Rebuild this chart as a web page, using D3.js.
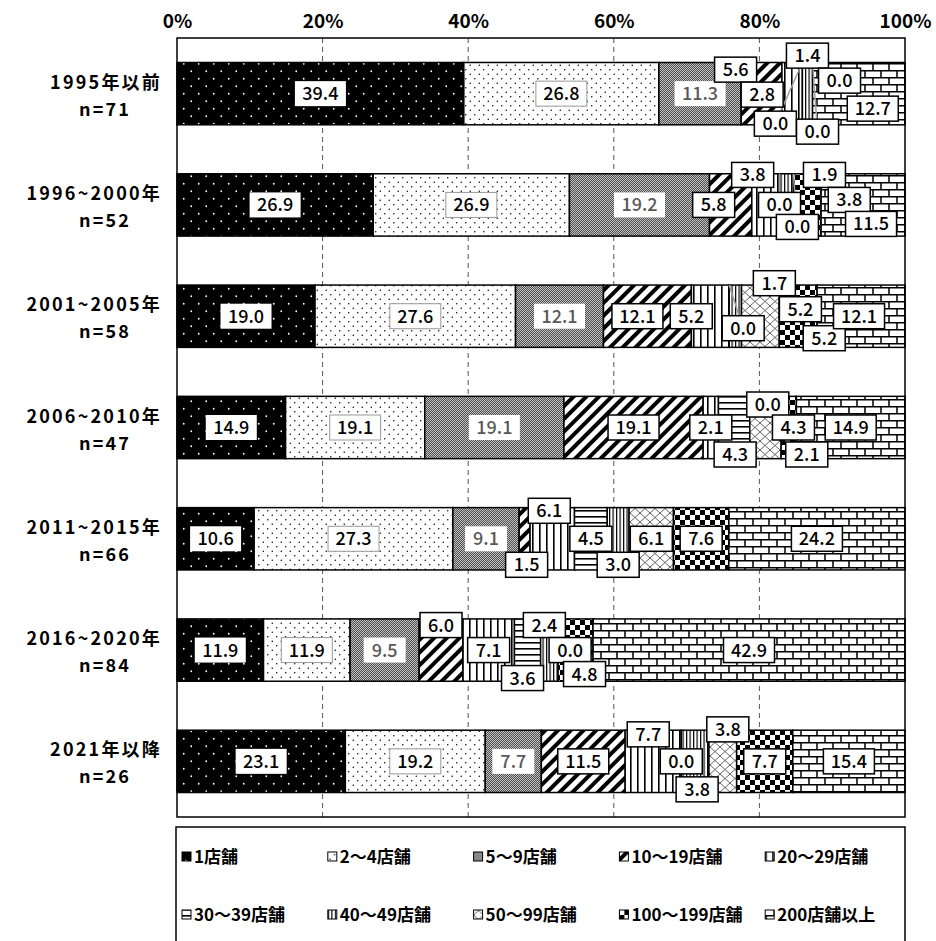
<!DOCTYPE html>
<html>
<head>
<meta charset="utf-8">
<script src="https://cdn.jsdelivr.net/npm/d3@7"></script>
<style>
  body { margin: 0; background: #fff; }
  svg text { font-family: "Noto Sans CJK JP", "Noto Sans", sans-serif; }
</style>
</head>
<body>
<div class="container"></div>
<script>
// categories (2 lines each)
const periods = ["1995年以前", "1996~2000年", "2001~2005年", "2006~2010年", "2011~2015年", "2016~2020年", "2021年以降"]
const sampleSizes = ["n=71", "n=52", "n=58", "n=47", "n=66", "n=84", "n=26"]

const seriesNames = ["1店舗", "2～4店舗", "5～9店舗", "10～19店舗", "20～29店舗",
                     "30～39店舗", "40～49店舗", "50～99店舗", "100～199店舗", "200店舗以上"]

// % values, one array per series, in the order of periods
const store1     = [39.4, 26.9, 19.0, 14.9, 10.6, 11.9, 23.1]
const store2to4  = [26.8, 26.9, 27.6, 19.1, 27.3, 11.9, 19.2]
const store5to9  = [11.3, 19.2, 12.1, 19.1, 9.1, 9.5, 7.7]
const store10to19 = [5.6, 5.8, 12.1, 19.1, 1.5, 6.0, 11.5]
const store20to29 = [2.8, 3.8, 5.2, 2.1, 6.1, 7.1, 7.7]
const store30to39 = [0.0, 0.0, 0.0, 4.3, 4.5, 3.6, 0.0]
const store40to49 = [1.4, 1.9, 1.7, 0.0, 3.0, 2.4, 3.8]
const store50to99 = [0.0, 0.0, 5.2, 4.3, 6.1, 0.0, 3.8]
const store100to199 = [0.0, 3.8, 5.2, 2.1, 7.6, 4.8, 7.7]
const store200plus = [12.7, 11.5, 12.1, 14.9, 24.2, 42.9, 15.4]

const tickValues = [0, 0.2, 0.4, 0.6, 0.8, 1]

const allSeries = [store1, store2to4, store5to9, store10to19, store20to29,
                   store30to39, store40to49, store50to99, store100to199, store200plus]

// hand-placed data labels (like the original): [dx, dy] from segment centre
const labelNudge = [
  [[0,0],[0,0],[0,0],[-26,-24],[-30,1],[-27,30],[0,-38],[27,-13],[5,38],[14,15]],
  [[0,0],[0,0],[0,0],[-17,0],[-13,-30],[0,0],[38,-30],[4,22],[42,-5],[8,19]],
  [[0,0],[0,0],[0,0],[-10,0],[-19,0],[14,12],[39,-33],[40,-7],[26,22],[-2,0]],
  [[0,0],[0,0],[0,0],[0,0],[0,0],[1,27],[18,-23],[28,0],[18,27],[0,0]],
  [[0,0],[0,0],[0,0],[2,26],[-3,-28],[0,0],[0,26],[0,0],[0,0],[0,0]],
  [[0,0],[0,0],[0,0],[0,-25],[0,0],[-5,28],[-5,-25],[12,0],[9,24],[0,0]],
  [[0,0],[0,0],[0,0],[0,0],[-5,-27],[0,0],[2,28],[5,-32],[0,0],[0,0]]
]
// labels that get a grey leader line: [row, series]
const leaders = [[0,5],[0,8],[1,5],[1,7],[2,5],[2,7]]

const w = 936
const h = 941

// rows for d3.stack
const rows = periods.map((p, i) => {
  const r = { period: p }
  seriesNames.forEach((s, j) => r[s] = allSeries[j][i])
  return r
})

const stacked = d3.stack()
  .keys(seriesNames)
  .offset(d3.stackOffsetExpand)(rows)

const x = d3.scaleLinear().domain([0, 1]).range([177, 905])
const y = d3.scaleBand().domain(periods).range([38, 817]).paddingInner(0.44).paddingOuter(0.22)

const svg = d3.select(".container")
  .append("svg")
  .attr("width", w)
  .attr("height", h)

// patterns
const defs = svg.append("defs")
function pat(id, pw, ph, draw, transform) {
  const p = defs.append("pattern").attr("id", id)
    .attr("patternUnits", "userSpaceOnUse")
    .attr("width", pw).attr("height", ph)
  if (transform) p.attr("patternTransform", transform)
  draw(p)
}
pat("p0", 15, 15, p => {
  p.append("rect").attr("width", 15).attr("height", 15).attr("fill", "#000")
  p.append("circle").attr("cx", 3.75).attr("cy", 3.75).attr("r", 0.9).attr("fill", "#fff")
  p.append("circle").attr("cx", 11.25).attr("cy", 11.25).attr("r", 0.9).attr("fill", "#fff")
})
pat("p1", 9, 9, p => {
  p.append("rect").attr("width", 9).attr("height", 9).attr("fill", "#fff")
  p.append("circle").attr("cx", 2.25).attr("cy", 2.25).attr("r", 0.75).attr("fill", "#000")
  p.append("circle").attr("cx", 6.75).attr("cy", 6.75).attr("r", 0.75).attr("fill", "#000")
})
pat("p2", 2, 2, p => {
  p.append("rect").attr("width", 2).attr("height", 2).attr("fill", "#505050")
  p.append("rect").attr("width", 1).attr("height", 1).attr("fill", "#c0c0c0")
  p.append("rect").attr("x", 1).attr("y", 1).attr("width", 1).attr("height", 1).attr("fill", "#c0c0c0")
})
pat("p3", 9, 9, p => {
  p.append("rect").attr("width", 9).attr("height", 9).attr("fill", "#fff")
  p.append("rect").attr("width", 4).attr("height", 9).attr("fill", "#000")
}, "rotate(45)")
pat("p4", 7, 4, p => {
  p.append("rect").attr("width", 7).attr("height", 4).attr("fill", "#fff")
  p.append("rect").attr("width", 1.6).attr("height", 4).attr("fill", "#000")
})
pat("p5", 4, 6, p => {
  p.append("rect").attr("width", 4).attr("height", 6).attr("fill", "#fff")
  p.append("rect").attr("width", 4).attr("height", 1.6).attr("fill", "#000")
})
pat("p6", 3.5, 4, p => {
  p.append("rect").attr("width", 3.5).attr("height", 4).attr("fill", "#fff")
  p.append("rect").attr("width", 1.2).attr("height", 4).attr("fill", "#000")
})
pat("p7", 10, 9, p => {
  p.append("rect").attr("width", 10).attr("height", 9).attr("fill", "#fff")
  p.append("path").attr("d", "M0,0L10,9M10,0L0,9").attr("stroke", "#666").attr("stroke-width", 1)
})
pat("p8", 10, 10, p => {
  p.append("rect").attr("width", 10).attr("height", 10).attr("fill", "#fff")
  p.append("rect").attr("x", 0).attr("y", 0).attr("width", 5).attr("height", 5).attr("fill", "#000")
  p.append("rect").attr("x", 5).attr("y", 5).attr("width", 5).attr("height", 5).attr("fill", "#000")
})
pat("p9", 16, 14, p => {
  p.append("rect").attr("width", 16).attr("height", 14).attr("fill", "#fff")
  p.append("path")
    .attr("d", "M0,0.75H16M0,7.75H16M1,0V7M9,7V14")
    .attr("stroke", "#000").attr("stroke-width", 1.5)
})

// gridlines
svg.append("g")
  .selectAll("line")
  .data(tickValues.slice(1, -1))
  .enter()
  .append("line")
  .attr("x1", d => x(d)).attr("x2", d => x(d))
  .attr("y1", 38).attr("y2", 817)
  .attr("stroke", "#555")
  .attr("stroke-dasharray", "5,4")

// bars
const seg = svg.append("g")
  .selectAll("g")
  .data(stacked)
  .enter()
  .append("g")
  .attr("fill", (d, i) => `url(#p${i})`)

seg.selectAll("rect")
  .data(d => d)
  .enter()
  .append("rect")
  .attr("x", d => x(d[0]))
  .attr("width", d => x(d[1]) - x(d[0]))
  .attr("y", d => y(d.data.period))
  .attr("height", y.bandwidth())
  .attr("stroke", "#000")
  .attr("stroke-width", 1.5)

// plot frame
svg.append("rect")
  .attr("x", 177).attr("y", 38).attr("width", 728).attr("height", 779)
  .attr("fill", "none").attr("stroke", "#000").attr("stroke-width", 1.5)

// top axis
const xAxis = d3.axisTop(x)
  .tickValues(tickValues)
  .tickFormat(d3.format(".0%"))
  .tickSize(0)
  .tickPadding(10)

svg.append("g")
  .attr("transform", "translate(0,38)")
  .call(xAxis)
  .call(g => g.select(".domain").remove())
  .selectAll("text")
  .attr("font-size", 19)
  .attr("font-weight", "bold")
  .attr("fill", "#000")
  .style("font-family", '"Noto Sans CJK JP", sans-serif')

// category labels
const cat = svg.append("g")
cat.selectAll(".l1")
  .data(periods)
  .enter()
  .append("text")
  .attr("x", 162)
  .attr("y", d => y(d) + y.bandwidth() / 2 - 5)
  .attr("text-anchor", "end")
  .attr("font-size", 18)
  .attr("font-weight", "bold")
  .attr("letter-spacing", 2.2)
  .text(d => d)
cat.selectAll(".l2")
  .data(sampleSizes)
  .enter()
  .append("text")
  .attr("x", 105)
  .attr("y", (d, i) => y(periods[i]) + y.bandwidth() / 2 + 22)
  .attr("text-anchor", "middle")
  .attr("font-size", 18)
  .attr("font-weight", "bold")
  .attr("letter-spacing", 2.2)
  .text(d => d)

// data labels
const labelData = []
stacked.forEach((s, si) => {
  s.forEach((d, ri) => {
    const nx = labelNudge[ri][si][0], ny = labelNudge[ri][si][1]
    labelData.push({
      si, ri,
      value: allSeries[si][ri],
      sx: (x(d[0]) + x(d[1])) / 2,
      sy: y(periods[ri]) + y.bandwidth() / 2,
      cx: (x(d[0]) + x(d[1])) / 2 + nx,
      cy: y(periods[ri]) + y.bandwidth() / 2 + ny
    })
  })
})

svg.append("g")
  .selectAll("line")
  .data(leaders)
  .enter()
  .append("line")
  .attr("x1", d => labelData.find(l => l.ri == d[0] && l.si == d[1]).cx)
  .attr("y1", d => labelData.find(l => l.ri == d[0] && l.si == d[1]).cy)
  .attr("x2", d => labelData.find(l => l.ri == d[0] && l.si == d[1]).sx)
  .attr("y2", d => y(periods[d[0]]))
  .attr("stroke", "#a0a0a0")
  .attr("stroke-width", 1.5)

const lab = svg.append("g")
  .selectAll("g")
  .data(labelData)
  .enter()
  .append("g")
  .attr("transform", d => `translate(${d.cx},${d.cy})`)

const boxW = d => d3.format(".1f")(d.value).length == 4 ? 51 : 42
lab.append("rect")
  .attr("x", d => -boxW(d) / 2)
  .attr("y", -12.5)
  .attr("width", boxW)
  .attr("height", 25)
  .attr("fill", "#fff")
  .attr("stroke", d => d.si == 0 || d.si == 2 ? "none" : d.si == 1 ? "#999" : "#000")
  .attr("stroke-width", d => d.si == 1 ? 1 : 1.5)

lab.append("text")
  .attr("text-anchor", "middle")
  .attr("dy", "0.36em")
  .attr("font-size", 18)
  .attr("font-weight", 500)
  .attr("fill", d => d.si == 2 ? "#595959" : "#000")
  .text(d => d3.format(".1f")(d.value))

// legend
svg.append("rect")
  .attr("x", 176).attr("y", 827).attr("width", 729).attr("height", 130)
  .attr("fill", "#fff").attr("stroke", "#000").attr("stroke-width", 1.5)

const leg = svg.append("g")
  .selectAll("g")
  .data(seriesNames)
  .enter()
  .append("g")
  .attr("transform", (d, i) => `translate(${182 + (i % 5) * 145.8},${857 + Math.floor(i / 5) * 58})`)

leg.append("rect")
  .attr("x", 0).attr("y", -5)
  .attr("width", 9).attr("height", 9)
  .attr("fill", (d, i) => `url(#p${i})`)
  .attr("stroke", "#000")
  .attr("stroke-width", 1)

leg.append("text")
  .attr("x", 12)
  .attr("dy", "0.35em")
  .attr("font-size", 17)
  .attr("font-weight", "bold")
  .text(d => d)
</script>
</body>
</html>
